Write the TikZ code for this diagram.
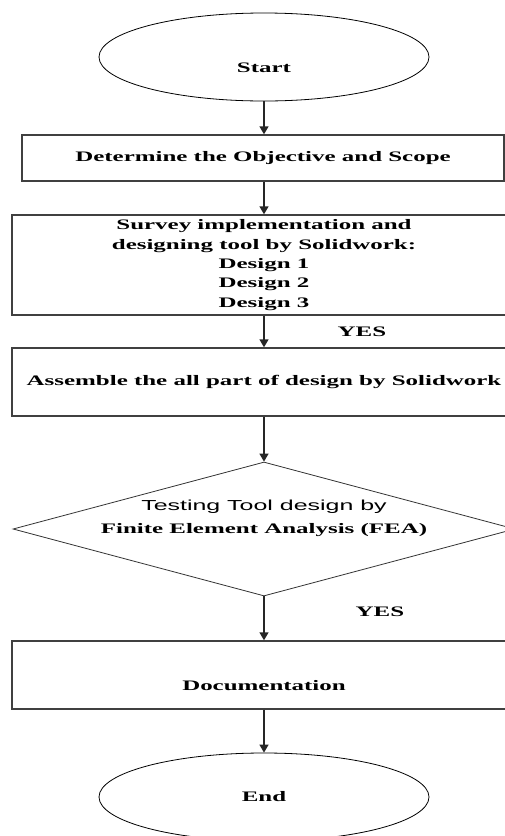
\documentclass[tikz,border=0pt]{standalone}
\usepackage{fontspec}
\setmainfont{Liberation Serif}[FakeStretch=1.72]
\newfontfamily\arialwide{Liberation Sans}[FakeStretch=1.72]
\usetikzlibrary{shapes.geometric,arrows.meta,positioning}
\begin{document}
\begin{tikzpicture}[x=1pt, y=-1pt,
  every node/.style={font=\fontsize{14.5}{19.3}\selectfont\bfseries},
  terminal/.style={draw=black, line width=0.8pt, ellipse, minimum width=330pt, minimum height=88pt, inner sep=0pt},
  stepbox/.style={draw=black!75, line width=1.4pt, rectangle, minimum height=#1, minimum width=504pt, align=center, inner sep=2pt},
  decision/.style={draw=black!80, line width=0.8pt, diamond, minimum width=502pt, minimum height=134pt, inner sep=0pt},
  arr/.style={draw=black!85, line width=1.4pt, -{Triangle[width=9pt,length=8pt]}},
  yes/.style={inner sep=0pt}]
\useasboundingbox (0,0) rectangle (505,836);
\node[terminal, text height=30pt, text depth=0pt] (start) at (264,57) {Start};
\node[stepbox=46pt, minimum width=482pt] (scope) at (263,158) {Determine the Objective and Scope};
\node[stepbox=100pt] (survey) at (264,265) {Survey implementation and\\designing tool by Solidwork:\\Design 1\\Design 2\\Design 3};
\node[stepbox=68pt] (assemble) at (264,382) {Assemble the all part of design by Solidwork};
\node[decision] (fea) at (264,529) {};
\node[align=center] (featext) at (264,518) {{\arialwide\mdseries Testing Tool design by}\\[4pt]Finite Element Analysis (FEA)};
\node[stepbox=68pt, text height=30pt, text depth=0pt] (doc) at (264,675) {Documentation};
\node[terminal] (stop) at (264,797) {End};
% arrows
\draw[arr] (start.south) -- (start.south |- scope.north);
\draw[arr] (start.south |- scope.south) -- (survey);
\draw[arr] (survey) -- node[yes, right=73pt] {YES} (assemble);
\draw[arr] (assemble) -- (fea);
\draw[arr] (fea) -- node[yes, pos=0.36, right=91pt] {YES} (doc);
\draw[arr] (doc) -- (stop);
\end{tikzpicture}
\end{document}
